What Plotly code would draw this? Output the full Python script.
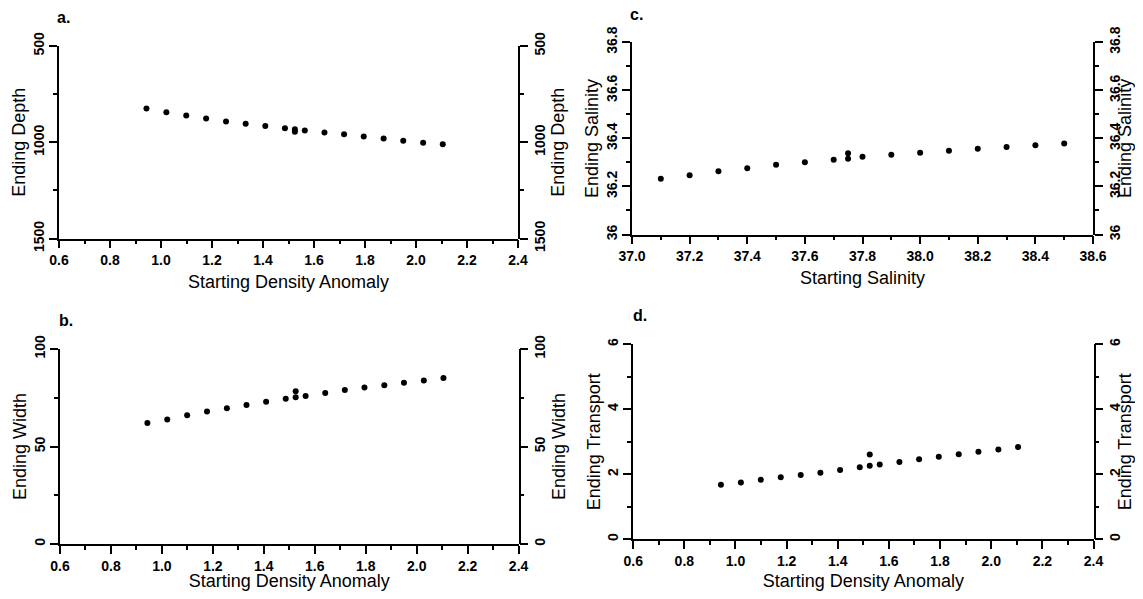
import plotly.graph_objects as go

# ---------------- data ----------------
density_start = [0.943, 1.021, 1.099, 1.177, 1.255, 1.332, 1.409, 1.486, 1.525, 1.525,
                 1.564, 1.641, 1.718, 1.795, 1.873, 1.950, 2.028, 2.105]
ending_depth = [825, 844, 861, 877, 892, 904, 916, 927, 933, 945,
                939, 949, 959, 970, 980, 992, 1003, 1011]
ending_width = [62.1, 63.9, 66.0, 67.9, 69.6, 71.3, 73.0, 74.5, 78.3, 75.2,
                75.9, 77.4, 79.0, 80.2, 81.4, 82.7, 83.9, 85.1]
ending_transport = [1.68, 1.75, 1.83, 1.91, 1.98, 2.05, 2.13, 2.22, 2.61, 2.26,
                    2.30, 2.38, 2.46, 2.54, 2.62, 2.69, 2.76, 2.84]
salinity_start = [37.1, 37.2, 37.3, 37.4, 37.5, 37.6, 37.7, 37.75, 37.75,
                  37.8, 37.9, 38.0, 38.1, 38.2, 38.3, 38.4, 38.5]
salinity_end = [36.232, 36.247, 36.263, 36.276, 36.290, 36.301, 36.311, 36.338, 36.315,
                36.324, 36.332, 36.340, 36.349, 36.357, 36.364, 36.371, 36.379]

panel_labels = ["a.", "b.", "c.", "d."]

# the page body keeps its default 8px margin, so the figure is drawn 8px in
PAGE_W, PAGE_H, BODY = 1143, 599, 8
W, H = PAGE_W - 2 * BODY, PAGE_H - 2 * BODY
FONT = "Liberation Sans, Arial, sans-serif"
TICKFONT = dict(family=FONT, size=14, color="black", weight="bold")
TITLEFONT = dict(family=FONT, size=18, color="black")


def px_x(p):
    return (p - BODY) / W


def px_y(p):
    return 1 - (p - BODY) / H


# panel geometry (page pixels) -> paper fractions
dom_a_x = [px_x(59), px_x(518)]
dom_a_y = [px_y(238.5), px_y(46)]
dom_b_x = [px_x(60), px_x(518.6)]
dom_b_y = [px_y(544), px_y(349)]
dom_c_x = [px_x(632), px_x(1093)]
dom_c_y = [px_y(234.5), px_y(42.3)]
dom_d_x = [px_x(633.2), px_x(1093.5)]
dom_d_y = [px_y(539.3), px_y(344.3)]

fig = go.Figure()

marker = dict(color="black", size=6, symbol="circle")
for xa, ya, xs, ys in [("x", "y", density_start, ending_depth),
                       ("x2", "y2", density_start, ending_width),
                       ("x3", "y3", salinity_start, salinity_end),
                       ("x4", "y4", density_start, ending_transport)]:
    fig.add_trace(go.Scatter(x=xs, y=ys, mode="markers", marker=marker,
                             xaxis=xa, yaxis=ya, showlegend=False))
# right-hand axes live on their own (hidden-x) subplots at the same place
for xa, ya, xs, ys in [("x5", "y5", density_start, ending_depth),
                       ("x6", "y6", density_start, ending_width),
                       ("x7", "y7", salinity_start, salinity_end),
                       ("x8", "y8", density_start, ending_transport)]:
    fig.add_trace(go.Scatter(x=xs, y=ys, mode="markers", marker=dict(opacity=0, size=1),
                             xaxis=xa, yaxis=ya, showlegend=False, hoverinfo="skip"))

common = dict(showline=True, linecolor="black", linewidth=1.5, showgrid=False, zeroline=False,
              ticks="outside", ticklen=8, tickwidth=1.5, tickcolor="black",
              tickfont=TICKFONT, automargin=False)


def xaxis(domain, anchor, rng, dtick, minor_dtick, title):
    return dict(domain=domain, anchor=anchor, range=rng, dtick=dtick, tickformat=".1f",
                minor=dict(dtick=minor_dtick, ticks="outside", ticklen=4, tickwidth=1.5,
                           tickcolor="black", showgrid=False),
                title=dict(text=title, font=TITLEFONT, standoff=8), **common)


def hidden_x(domain, anchor, rng):
    return dict(domain=domain, anchor=anchor, range=rng, visible=False, showgrid=False,
                zeroline=False)


def yaxis(domain, anchor, rng, dtick, minor_dtick, title, side="left"):
    return dict(domain=domain, anchor=anchor, range=rng, dtick=dtick, tickangle=-90, side=side,
                minor=dict(dtick=minor_dtick, ticks="outside", ticklen=4, tickwidth=1.5,
                           tickcolor="black", showgrid=False),
                title=dict(text=title, font=TITLEFONT, standoff=0 if side == "left" else 5),
                **common)


layout = dict(
    width=W, height=H, margin=dict(l=0, r=0, t=0, b=0),
    paper_bgcolor="white", plot_bgcolor="rgba(0,0,0,0)", font=dict(family=FONT, color="black"),
    xaxis=xaxis(dom_a_x, "y", [0.6, 2.4], 0.2, 0.1, "Starting Density Anomaly"),
    xaxis2=xaxis(dom_b_x, "y2", [0.6, 2.4], 0.2, 0.1, "Starting Density Anomaly"),
    xaxis3=xaxis(dom_c_x, "y3", [37.0, 38.6], 0.2, 0.1, "Starting Salinity"),
    xaxis4=xaxis(dom_d_x, "y4", [0.6, 2.4], 0.2, 0.1, "Starting Density Anomaly"),
    yaxis=yaxis(dom_a_y, "x", [1500, 500], 500, 250, "Ending Depth"),
    yaxis2=yaxis(dom_b_y, "x2", [0, 100], 50, 25, "Ending Width"),
    yaxis3=yaxis(dom_c_y, "x3", [36.0, 36.8], 0.2, 0.1, "Ending Salinity"),
    yaxis4=yaxis(dom_d_y, "x4", [0, 6], 2, 1, "Ending Transport"),
    xaxis5=hidden_x(dom_a_x, "y5", [0.6, 2.4]),
    xaxis6=hidden_x(dom_b_x, "y6", [0.6, 2.4]),
    xaxis7=hidden_x(dom_c_x, "y7", [37.0, 38.6]),
    xaxis8=hidden_x(dom_d_x, "y8", [0.6, 2.4]),
    yaxis5=yaxis(dom_a_y, "x5", [1500, 500], 500, 250, "Ending Depth", "right"),
    yaxis6=yaxis(dom_b_y, "x6", [0, 100], 50, 25, "Ending Width", "right"),
    yaxis7=yaxis(dom_c_y, "x7", [36.0, 36.8], 0.2, 0.1, "Ending Salinity", "right"),
    yaxis8=yaxis(dom_d_y, "x8", [0, 6], 2, 1, "Ending Transport", "right"),
)
fig.update_layout(**layout)

label_pos = [(64, 17), (66, 320), (636, 15), (640, 315)]
for text, (lx, ly) in zip(panel_labels, label_pos):
    fig.add_annotation(text=text, xref="paper", yref="paper", x=px_x(lx), y=px_y(ly),
                       xanchor="center", yanchor="middle", showarrow=False,
                       font=dict(family=FONT, size=16, color="black", weight="bold"))

fig.write_html("out.html", config={"displayModeBar": False})
